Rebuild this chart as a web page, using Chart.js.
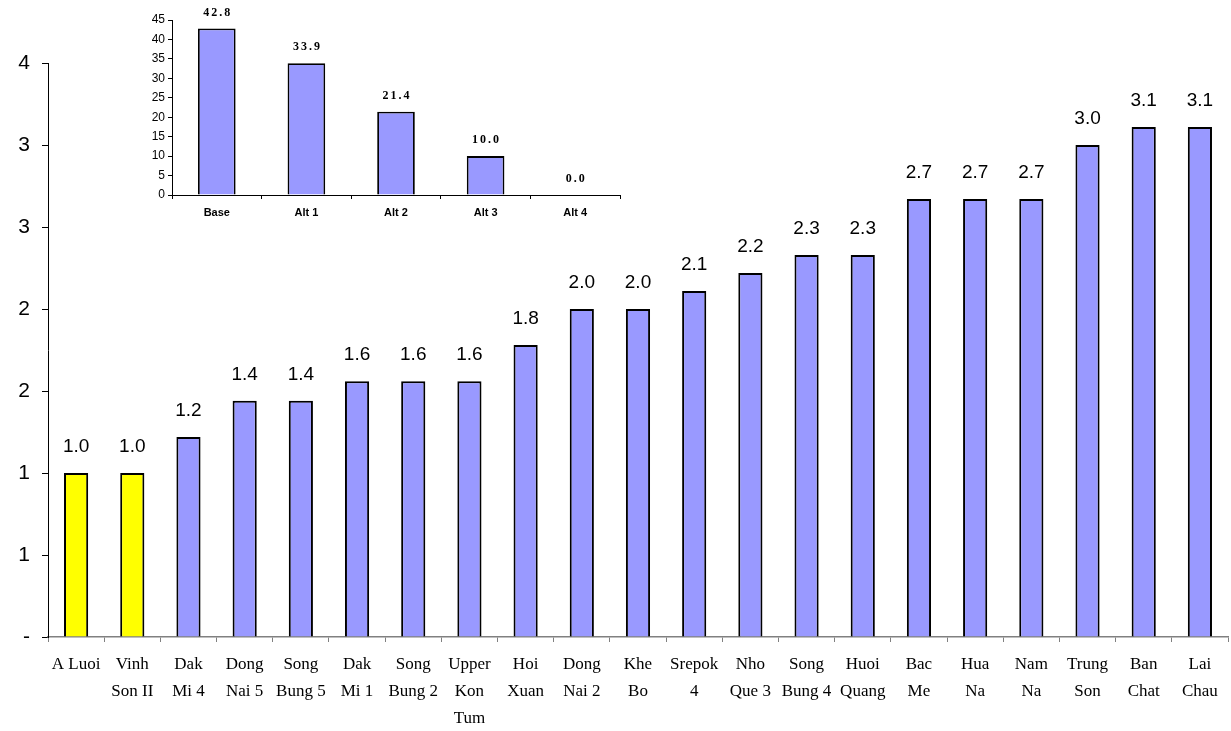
<!DOCTYPE html>
<html>
<head>
<meta charset="utf-8">
<script src="https://cdn.jsdelivr.net/npm/chart.js@4.4.1/dist/chart.umd.min.js"></script>
<style>
  body { margin: 0; background: #fff; }
  #wrap { position: relative; width: 1231px; height: 731px; }
  #mainChart { position: absolute; left: 0; top: 0; }
  #insetChart { position: absolute; left: 120px; top: 0; }
</style>
</head>
<body>
<div id="wrap">
  <canvas id="mainChart" width="1231" height="731"></canvas>
  <canvas id="insetChart" width="510" height="225"></canvas>
</div>
<script>
// main chart data
const projects = [
  ['A Luoi'], ['Vinh', 'Son II'], ['Dak', 'Mi 4'], ['Dong', 'Nai 5'], ['Song', 'Bung 5'],
  ['Dak', 'Mi 1'], ['Song', 'Bung 2'], ['Upper', 'Kon', 'Tum'], ['Hoi', 'Xuan'], ['Dong', 'Nai 2'],
  ['Khe', 'Bo'], ['Srepok', '4'], ['Nho', 'Que 3'], ['Song', 'Bung 4'], ['Huoi', 'Quang'],
  ['Bac', 'Me'], ['Hua', 'Na'], ['Nam', 'Na'], ['Trung', 'Son'], ['Ban', 'Chat'], ['Lai', 'Chau']
];
const ratios = [1.0, 1.0, 1.22, 1.44, 1.44, 1.56, 1.56, 1.56, 1.78, 2.0, 2.0,
                2.11, 2.22, 2.33, 2.33, 2.67, 2.67, 2.67, 3.0, 3.11, 3.11];
const highlighted = 2; // first bars drawn in yellow

// inset chart data
const altLabels = ['Base', 'Alt 1', 'Alt 2', 'Alt 3', 'Alt 4'];
const altValues = [42.8, 33.9, 21.4, 10.0, 0.0];

// value labels above bars
const valueLabels = {
  id: 'valueLabels',
  afterDatasetsDraw(chart, args, opts) {
    const ctx = chart.ctx;
    const meta = chart.getDatasetMeta(0);
    ctx.save();
    ctx.font = opts.font;
    ctx.fillStyle = '#000';
    ctx.textAlign = 'center';
    ctx.textBaseline = 'alphabetic';
    if (opts.spacing) ctx.letterSpacing = opts.spacing + 'px';
    meta.data.forEach((bar, i) => {
      const v = chart.data.datasets[0].data[i];
      ctx.fillText(v.toFixed(1), bar.x + (opts.spacing || 0) / 2, bar.y - opts.gap);
    });
    ctx.restore();
  }
};

new Chart(document.getElementById('mainChart'), {
  type: 'bar',
  data: {
    labels: projects,
    datasets: [{
      data: ratios,
      backgroundColor: ratios.map((v, i) => i < highlighted ? '#ffff00' : '#9999ff'),
      borderColor: '#000',
      borderWidth: 2,
      borderSkipped: 'start',
      barPercentage: 0.86,
      categoryPercentage: 0.5
    }]
  },
  options: {
    responsive: false,
    animation: false,
    layout: { padding: { top: 63, right: 3, left: 0, bottom: 0 } },
    plugins: {
      legend: { display: false },
      tooltip: { enabled: false },
      valueLabels: { font: '19px "Liberation Sans", Arial, sans-serif', gap: 21 }
    },
    scales: {
      x: {
        afterFit: s => { s.height = 94; },
        grid: { drawOnChartArea: false, tickLength: 5, color: '#808080', offset: true },
        border: { color: '#808080', width: 1.5 },
        ticks: {
          color: '#000',
          maxRotation: 0,
          autoSkip: false,
          padding: 9,
          font: { family: '"Liberation Serif", "Times New Roman", serif', size: 17, lineHeight: 1.6 }
        }
      },
      y: {
        min: 0,
        max: 3.5,
        afterFit: s => { s.width = 48; },
        grid: { drawOnChartArea: false, tickLength: 6, color: '#000' },
        border: { color: '#000', width: 1 },
        ticks: {
          stepSize: 0.5,
          color: '#000',
          padding: 12,
          font: { family: '"Liberation Sans", Arial, sans-serif', size: 21 },
          callback: v => v === 0 ? '-' : String(Math.round(v))
        }
      }
    }
  },
  plugins: [valueLabels]
});

new Chart(document.getElementById('insetChart'), {
  type: 'bar',
  data: {
    labels: altLabels,
    datasets: [{
      data: altValues,
      backgroundColor: '#9999ff',
      borderColor: '#000',
      borderWidth: altValues.map(v => v === 0 ? 0 : 1.8),
      borderSkipped: 'start',
      barPercentage: 0.84,
      categoryPercentage: 0.5
    }]
  },
  options: {
    responsive: false,
    animation: false,
    layout: { padding: { top: 20, right: 10, left: 0, bottom: 0 } },
    plugins: {
      legend: { display: false },
      tooltip: { enabled: false },
      valueLabels: { font: 'bold 12px "Liberation Serif", "Times New Roman", serif', gap: 13, spacing: 2 }
    },
    scales: {
      x: {
        afterFit: s => { s.height = 30; },
        grid: { drawOnChartArea: false, tickLength: 4, color: '#000', offset: true },
        border: { color: '#000', width: 1 },
        ticks: {
          color: '#000',
          maxRotation: 0,
          autoSkip: false,
          padding: 7,
          font: { family: '"Liberation Sans", Arial, sans-serif', size: 11, weight: 'bold' }
        }
      },
      y: {
        min: 0,
        max: 45,
        afterFit: s => { s.width = 52; },
        grid: { drawOnChartArea: false, tickLength: 4, color: '#000' },
        border: { color: '#000', width: 1 },
        ticks: {
          stepSize: 5,
          color: '#000',
          padding: 3,
          font: { family: '"Liberation Sans", Arial, sans-serif', size: 12 }
        }
      }
    }
  },
  plugins: [valueLabels]
});
</script>
</body>
</html>
